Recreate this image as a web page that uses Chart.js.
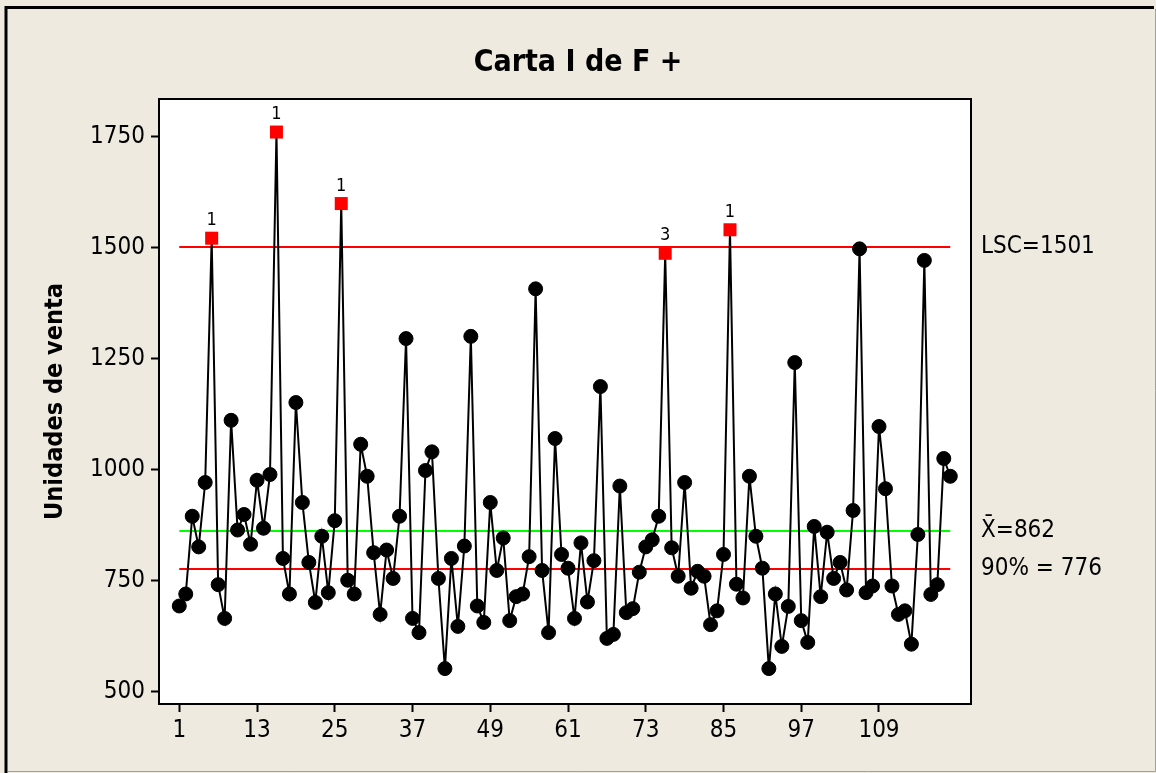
<!DOCTYPE html>
<html>
<head>
<meta charset="utf-8">
<script src="https://cdn.jsdelivr.net/npm/chart.js@4.4.1/dist/chart.umd.min.js"></script>
<style>
  html, body { margin: 0; padding: 0; background: #EEEAE0; }
  canvas { display: block; }
</style>
</head>
<body>
<canvas id="c" width="1156" height="773"></canvas>
<script>
// ---- data ----
const values = [
  693, 720, 895, 826, 971, 1521, 741, 665, 1111, 864,
  899, 832, 976, 868, 989, 1760, 800, 720, 1151, 926,
  791, 701, 850, 723, 885, 1599, 751, 720, 1057, 985,
  813, 674, 819, 755, 895, 1295, 665, 633, 998, 1040,
  755, 552, 800, 647, 828, 1300, 693, 656, 926, 773,
  846, 660, 714, 720, 804, 1407, 773, 633, 1070, 809,
  778, 665, 835, 702, 795, 1187, 620, 629, 963, 678,
  687, 769, 826, 842, 895, 1487, 824, 760, 971, 733,
  771, 760, 651, 682, 809, 1540, 742, 711, 985, 850,
  778, 552, 720, 602, 692, 1241, 660, 611, 872, 714,
  859, 755, 791, 729, 908, 1497, 723, 738, 1097, 957,
  738, 674, 682, 607, 854, 1471, 719, 741, 1025, 985
];
const flaggedIndex = [6, 16, 26, 76, 86];
const flaggedTest  = ['1', '1', '1', '3', '1'];
const limitValues = [1501, 862, 776];
const limitLabels = ['LSC=1501', 'X\u0304=862', '90% = 776'];
const limitColors = ['#FF0000', '#00FF00', '#FF0000'];
const xTicks = [1, 13, 25, 37, 49, 61, 73, 85, 97, 109];
const yTicks = [500, 750, 1000, 1250, 1500, 1750];
const titleText = 'Carta I de F +';
const yTitle = 'Unidades de venta';

// ---- build ----
const FONT = "'DejaVu Sans Condensed', 'DejaVu Sans', sans-serif";
const n = values.length;
const mainData = values.map((v, i) => ({ x: i + 1, y: v }));
const isFlag = values.map((v, i) => flaggedIndex.includes(i + 1));

const datasets = [{
  data: mainData,
  showLine: true,
  borderColor: '#000',
  borderWidth: 2,
  pointStyle: isFlag.map(f => f ? 'rect' : 'circle'),
  pointRadius: isFlag.map(f => f ? 9.2 : 7),
  pointBackgroundColor: isFlag.map(f => f ? '#FF0000' : '#000'),
  pointBorderColor: isFlag.map(f => f ? '#FF0000' : '#000'),
  pointBorderWidth: isFlag.map(f => f ? 0 : 1),
  tension: 0
}];
limitValues.forEach((lv, k) => {
  datasets.push({
    data: [{ x: 1, y: lv }, { x: n, y: lv }],
    showLine: true,
    borderColor: limitColors[k],
    borderWidth: 2,
    pointRadius: 0,
    tension: 0
  });
});

const framePlugin = {
  id: 'frame',
  beforeDraw(chart) {
    const ctx = chart.ctx, a = chart.chartArea;
    ctx.save();
    ctx.fillStyle = '#EEEAE0';
    ctx.fillRect(0, 0, chart.width, chart.height);
    ctx.fillStyle = '#FFFFFF';
    ctx.fillRect(a.left, a.top, a.right - a.left, a.bottom - a.top);
    ctx.strokeStyle = '#000';
    ctx.lineWidth = 3;
    ctx.beginPath();
    ctx.moveTo(6, 773); ctx.lineTo(6, 7.5); ctx.lineTo(1154, 7.5);
    ctx.stroke();
    ctx.strokeStyle = '#A0A0A0';
    ctx.lineWidth = 1;
    ctx.beginPath();
    ctx.moveTo(1155.5, 9); ctx.lineTo(1155.5, 771.5); ctx.lineTo(8, 771.5);
    ctx.stroke();
    ctx.restore();
  },
  afterDraw(chart) {
    const ctx = chart.ctx, a = chart.chartArea;
    const xs = chart.scales.x, ys = chart.scales.y;
    ctx.save();
    ctx.strokeStyle = '#000';
    ctx.lineWidth = 2;
    ctx.strokeRect(a.left, a.top, a.right - a.left, a.bottom - a.top);
    ctx.fillStyle = '#000';
    ctx.font = '18px ' + FONT;
    ctx.textAlign = 'center';
    ctx.textBaseline = 'alphabetic';
    flaggedIndex.forEach((idx, k) => {
      const px = xs.getPixelForValue(idx);
      const py = ys.getPixelForValue(values[idx - 1]);
      ctx.fillText(flaggedTest[k], px, py - 13);
    });
    ctx.font = '24px ' + FONT;
    ctx.textAlign = 'left';
    ctx.textBaseline = 'middle';
    limitValues.forEach((lv, k) => {
      ctx.fillText(limitLabels[k], a.right + 10, ys.getPixelForValue(lv));
    });
    ctx.restore();
  }
};

new Chart(document.getElementById('c'), {
  type: 'scatter',
  data: { datasets },
  options: {
    responsive: false,
    animation: false,
    devicePixelRatio: 1,
    layout: { padding: 0 },
    plugins: {
      legend: { display: false },
      tooltip: { enabled: false },
      title: {
        display: true,
        text: titleText,
        color: '#000',
        font: { family: FONT, size: 30, weight: 'bold', lineHeight: 1.2 },
        padding: { top: 45, bottom: 18 }
      }
    },
    scales: {
      x: {
        type: 'linear',
        min: -2.13,
        max: 123.2,
        afterBuildTicks: s => { s.ticks = xTicks.map(v => ({ value: v })); },
        afterFit: s => { s.height = 69; },
        grid: { drawOnChartArea: false, drawTicks: true, tickLength: 8, tickWidth: 2, tickColor: '#000' },
        border: { display: false },
        ticks: { color: '#000', padding: 4, maxRotation: 0, autoSkip: false,
                 callback: v => String(v),
                 font: { family: FONT, size: 24 } }
      },
      y: {
        type: 'linear',
        position: 'left',
        min: 472.3,
        max: 1834.4,
        afterBuildTicks: s => { s.ticks = yTicks.map(v => ({ value: v })); },
        afterFit: s => { s.width = 159; },
        grid: { drawOnChartArea: false, drawTicks: true, tickLength: 8, tickWidth: 2, tickColor: '#000' },
        border: { display: false },
        ticks: { color: '#000', padding: 6, callback: v => String(v),
                 font: { family: FONT, size: 24 } },
        title: {
          display: true,
          text: yTitle,
          color: '#000',
          font: { family: FONT, size: 25, weight: 'bold', lineHeight: 1.2 },
          padding: { top: 40, bottom: 0 }
        }
      },
      yRight: {
        type: 'linear',
        position: 'right',
        min: 0,
        max: 1,
        afterFit: s => { s.width = 185; },
        grid: { display: false },
        border: { display: false },
        ticks: { display: false }
      }
    }
  },
  plugins: [framePlugin]
});
</script>
</body>
</html>
